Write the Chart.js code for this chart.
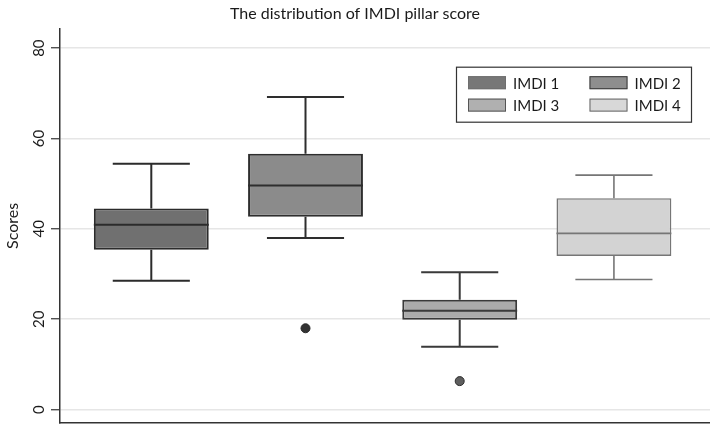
<!DOCTYPE html>
<html>
<head>
<meta charset="utf-8">
<title>The distribution of IMDI pillar score</title>
<script src="https://cdn.jsdelivr.net/npm/chart.js@4.4.1/dist/chart.umd.min.js"></script>
<style>
  html, body { margin: 0; padding: 0; background: #fff; }
</style>
</head>
<body>
<canvas id="boxChart" width="710" height="425"></canvas>
<script>
"use strict";
// Box plot values
const categories = ['IMDI 1', 'IMDI 2', 'IMDI 3', 'IMDI 4'];
const whiskerLow = [28.5, 38.0, 13.9, 28.8];
const q1 = [35.4, 42.7, 19.9, 34.0];
const median = [40.9, 49.6, 21.9, 39.0];
const q3 = [44.5, 56.6, 24.3, 46.8];
const whiskerHigh = [54.4, 69.2, 30.4, 51.9];
const outliers = [[], [18.0], [6.3], []];
const yTicks = [0, 20, 40, 60, 80];

// Styles
const fontFamily = 'Lato, "Open Sans", sans-serif';
const textColor = '#1a1a1a';
const fillColors = ['#707070', '#8b8b8b', '#ababab', '#d3d3d3'];
const lineColors = ['#2b2b2b', '#2e2e2e', '#3a3a3a', '#767676'];
const lineWidths = [2, 2, 2, 1.6];
const legendFill = ['#777777', '#8e8e8e', '#b0b0b0', '#d8d8d8'];
const legendBorder = ['#6e6e6e', '#3a3a3a', '#555555', '#666666'];
const outlierFill = ['#333', '#333', '#5e5e5e', '#5e5e5e'];
const capWidth = 0.5; // in x units

// Whiskers, caps and medians drawn through the chart scales
const boxPlotLines = {
    id: 'boxPlotLines',
    afterDatasetsDraw(chart) {
        const {ctx, scales: {x, y}} = chart;
        categories.forEach((name, i) => {
            const bar = chart.getDatasetMeta(i).data[0];
            const cx = x.getPixelForValue(i + 1);
            const capL = x.getPixelForValue(i + 1 - capWidth / 2);
            const capR = x.getPixelForValue(i + 1 + capWidth / 2);
            ctx.save();
            ctx.strokeStyle = lineColors[i];
            ctx.lineWidth = lineWidths[i];
            ctx.beginPath();
            // upper whisker
            ctx.moveTo(cx, y.getPixelForValue(q3[i]));
            ctx.lineTo(cx, y.getPixelForValue(whiskerHigh[i]));
            ctx.moveTo(capL, y.getPixelForValue(whiskerHigh[i]));
            ctx.lineTo(capR, y.getPixelForValue(whiskerHigh[i]));
            // lower whisker
            ctx.moveTo(cx, y.getPixelForValue(q1[i]));
            ctx.lineTo(cx, y.getPixelForValue(whiskerLow[i]));
            ctx.moveTo(capL, y.getPixelForValue(whiskerLow[i]));
            ctx.lineTo(capR, y.getPixelForValue(whiskerLow[i]));
            // median
            ctx.moveTo(bar.x - bar.width / 2, y.getPixelForValue(median[i]));
            ctx.lineTo(bar.x + bar.width / 2, y.getPixelForValue(median[i]));
            ctx.stroke();
            ctx.restore();
        });
    }
};

// Legend box inside the plot, two columns
const boxLegend = {
    id: 'boxLegend',
    afterDraw(chart) {
        const {ctx, chartArea} = chart;
        const boxW = 235, boxH = 55;
        const left = chartArea.right - 19 - boxW;
        const top = chartArea.top + 38;
        ctx.save();
        ctx.fillStyle = '#ffffff';
        ctx.fillRect(left, top, boxW, boxH);
        ctx.strokeStyle = '#333333';
        ctx.lineWidth = 1.2;
        ctx.strokeRect(left + 0.5, top + 0.5, boxW, boxH);
        categories.forEach((name, i) => {
            const col = i % 2, row = Math.floor(i / 2);
            const sx = left + 12 + col * 121.5;
            const sy = top + 9.5 + row * 22.4;
            ctx.fillStyle = legendFill[i];
            ctx.fillRect(sx, sy, 38, 13);
            ctx.strokeStyle = legendBorder[i];
            ctx.lineWidth = 1;
            ctx.strokeRect(sx + 0.5, sy + 0.5, 37, 12);
            ctx.fillStyle = textColor;
            ctx.font = '15px ' + fontFamily;
            ctx.textBaseline = 'middle';
            ctx.fillText(name, sx + 45, sy + 7.5);
        });
        ctx.restore();
    }
};

const boxDatasets = categories.map((name, i) => ({
    type: 'bar',
    label: name,
    data: [{x: i + 1, y: [q1[i], q3[i]]}],
    backgroundColor: fillColors[i],
    borderColor: lineColors[i],
    borderWidth: lineWidths[i],
    borderSkipped: false,
    barPercentage: 0.745,
    categoryPercentage: 1,
    grouped: false
}));

const outlierDatasets = categories.map((name, i) => ({
    type: 'scatter',
    label: name + ' outliers',
    data: outliers[i].map(v => ({x: i + 1, y: v})),
    pointRadius: 4.5,
    pointBackgroundColor: outlierFill[i],
    pointBorderColor: '#2a2a2a',
    pointBorderWidth: 1
}));

const ctx = document.getElementById('boxChart').getContext('2d');
new Chart(ctx, {
    type: 'bar',
    data: { datasets: boxDatasets.concat(outlierDatasets) },
    options: {
        responsive: false,
        animation: false,
        events: [],
        layout: { autoPadding: false, padding: { left: 0, right: 0, top: 0, bottom: 2 } },
        plugins: {
            legend: { display: false },
            tooltip: { enabled: false },
            title: {
                display: true,
                text: 'The distribution of IMDI pillar score',
                color: textColor,
                font: { family: fontFamily, size: 16, weight: 'normal' },
                padding: { top: 4, bottom: 5.5 }
            }
        },
        scales: {
            x: {
                type: 'linear',
                min: 0.408,
                max: 4.623,
                offset: false,
                afterBuildTicks: s => { s.ticks = categories.map((c, i) => ({value: i + 1})); },
                ticks: { display: false },
                grid: { display: false, drawTicks: false },
                border: { color: '#333333', width: 1.5 }
            },
            y: {
                min: -2.97,
                max: 84.3,
                afterBuildTicks: s => { s.ticks = yTicks.map(v => ({value: v})); },
                afterFit: s => { s.width = 60; s.paddingTop = 0; s.paddingBottom = 0; },
                ticks: {
                    minRotation: 90,
                    maxRotation: 90,
                    crossAlign: 'center',
                    padding: 3,
                    color: textColor,
                    font: { family: fontFamily, size: 15 }
                },
                grid: { color: '#e6e6e6', lineWidth: 1.5, tickColor: '#333333', tickLength: 9, tickWidth: 1.2 },
                border: { color: '#333333', width: 1.5 },
                title: {
                    display: true,
                    text: 'Scores',
                    color: textColor,
                    font: { family: fontFamily, size: 16 },
                    padding: { top: 3, bottom: 0 }
                }
            }
        }
    },
    plugins: [boxPlotLines, boxLegend]
});
</script>
</body>
</html>
